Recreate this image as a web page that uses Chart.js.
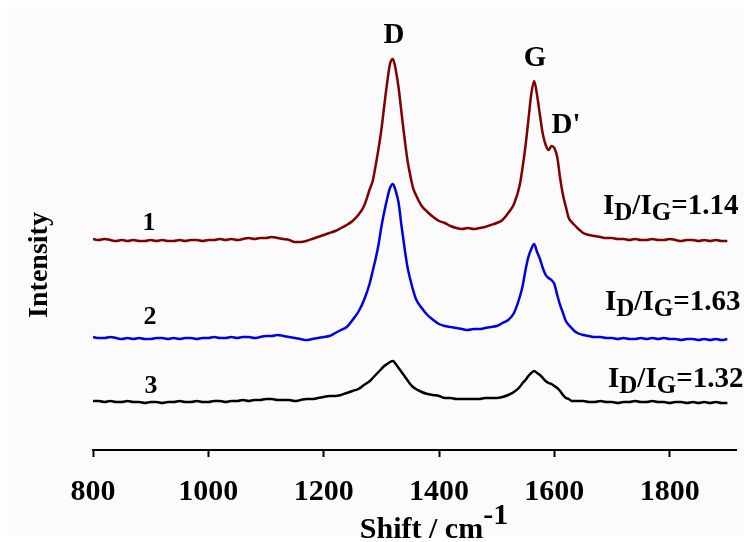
<!DOCTYPE html>
<html>
<head>
<meta charset="utf-8">
<title>Raman spectra</title>
<script src="https://cdn.jsdelivr.net/npm/chart.js@4/dist/chart.umd.min.js"></script>
<style>
  html, body { margin: 0; padding: 0; background: #fff; }
  #wrap { width: 751px; height: 542px; }
</style>
</head>
<body>
<div id="wrap"><canvas id="raman" width="751" height="542"></canvas></div>
<script>
// ── Data (Raman shift in cm-1, offset intensity in a.u.) ──────
const shifts = [
  800, 810, 820, 830, 840, 850, 860, 870, 880, 890,
  900, 910, 920, 930, 940, 950, 960, 970, 980, 990,
  1000, 1010, 1020, 1030, 1040, 1050, 1060, 1070, 1080, 1090,
  1100, 1110, 1120, 1130, 1140, 1150, 1160, 1170, 1180, 1190,
  1200, 1210, 1220, 1230, 1240, 1250, 1260, 1270,
  1280, 1285, 1290, 1295, 1300, 1305, 1310, 1315, 1320, 1325, 1330, 1335, 1340, 1345, 1350, 1355, 1360,
  1370, 1380, 1390, 1400, 1410, 1420, 1430, 1440, 1450, 1460, 1470, 1480, 1490, 1500, 1510, 1520, 1530,
  1540, 1545, 1550, 1555, 1560, 1565, 1570, 1575, 1580, 1585, 1590, 1595, 1600, 1605, 1610, 1615, 1620, 1625, 1630, 1635, 1640,
  1650, 1660, 1670, 1680, 1690, 1700, 1710, 1720, 1730, 1740, 1750, 1760, 1770, 1780, 1790, 1800,
  1810, 1820, 1830, 1840, 1850, 1860, 1870, 1880, 1890, 1900
];

// sample 1 (dark red)
const sample1 = [
  211, 210, 211, 210, 209, 210, 209, 210, 209, 209,
  210, 209, 210, 209, 209, 210, 209, 210, 210, 209,
  210, 210, 211, 210, 211, 210, 211, 212, 211, 212,
  212, 213, 212, 211, 210, 208, 208, 209, 211, 213,
  215, 217, 219, 222, 225, 229, 235, 244,
  261, 269, 284, 301, 320, 344, 367, 386, 391, 380, 362, 337, 313, 291, 275, 262, 255,
  244, 238, 233, 229, 227, 224, 222, 221, 222, 221, 222, 223, 225, 227, 230, 237, 246,
  265, 283, 304, 330, 356, 369, 355, 335, 316, 305, 300, 304, 302, 293, 272, 255, 243, 232, 228, 225, 222,
  217, 215, 214, 213, 212, 212, 211, 211, 210, 211, 210, 210, 211, 210, 210, 211,
  210, 209, 210, 210, 209, 210, 209, 210, 209, 209
];

// sample 2 (blue)
const sample2 = [
  113, 112, 112, 113, 112, 111, 112, 111, 112, 111,
  111, 112, 112, 111, 112, 111, 112, 112, 111, 112,
  112, 113, 112, 112, 113, 112, 113, 113, 112, 113,
  114, 114, 115, 114, 113, 112, 111, 110, 111, 112,
  113, 114, 117, 120, 123, 130, 138, 150,
  167, 179, 191, 205, 223, 238, 251, 262, 266, 259, 247, 224, 203, 184, 171, 160, 151,
  142, 135, 130, 126, 124, 123, 122, 121, 120, 121, 121, 122, 123, 124, 127, 130, 137,
  153, 164, 180, 193, 201, 206, 198, 191, 182, 175, 172, 170, 166, 155, 145, 137, 129, 125, 122, 119, 117,
  115, 114, 113, 113, 112, 112, 111, 112, 111, 111, 112, 111, 112, 111, 112, 111,
  111, 110, 111, 111, 110, 111, 110, 111, 110, 111
];

// sample 3 (black)
const sample3 = [
  49, 49, 48, 49, 48, 48, 49, 48, 48, 47,
  48, 48, 47, 48, 48, 49, 48, 48, 49, 48,
  48, 49, 49, 48, 49, 49, 50, 49, 50, 50,
  51, 51, 50, 50, 50, 49, 50, 51, 51, 52,
  53, 54, 54, 55, 57, 59, 61, 65,
  69, 72, 75, 78, 81, 84, 86, 88, 89, 86, 82, 78, 74, 70, 66, 63, 61,
  58, 56, 55, 54, 52, 52, 51, 51, 51, 51, 51, 52, 52, 52, 53, 55, 58,
  63, 67, 70, 74, 77, 79, 77, 75, 72, 69, 67, 66, 64, 62, 59, 55, 52, 51, 49, 49, 49,
  49, 48, 48, 49, 48, 48, 47, 48, 48, 49, 48, 48, 49, 48, 48, 47,
  48, 48, 47, 48, 47, 48, 47, 48, 47, 47
];

const xTicks = [800, 1000, 1200, 1400, 1600, 1800];
const curveNames = ['1', '2', '3'];
const ratioValues = ['1.14', '1.63', '1.32'];
const peakNames = ['D', 'G', "D'"];

const serif = "'Times New Roman', 'Liberation Serif', serif";
const toPoints = vals => shifts.map((s, i) => ({ x: s, y: vals[i] }));

// ── Text helpers ──────────────────────────────────────────────
function drawParts(ctx, x, y, parts) {
  parts.forEach(p => {
    ctx.font = `bold ${p.size}px ${serif}`;
    ctx.fillText(p.t, x, y + (p.dy || 0));
    x += ctx.measureText(p.t).width;
  });
}
function partsWidth(ctx, parts) {
  return parts.reduce((w, p) => {
    ctx.font = `bold ${p.size}px ${serif}`;
    return w + ctx.measureText(p.t).width;
  }, 0);
}

// ── Labels plugin ─────────────────────────────────────────────
const labelsPlugin = {
  id: 'labels',
  beforeDraw(chart) {
    const { ctx, width, height } = chart;
    ctx.save();
    ctx.fillStyle = '#fff';
    ctx.fillRect(0, 0, width, height);
    ctx.fillStyle = '#fbfbfb';
    ctx.fillRect(7, 7, width - 14, height - 14);
    ctx.restore();
  },
  afterDraw(chart) {
    const { ctx } = chart;
    ctx.save();
    ctx.fillStyle = '#000';
    ctx.textBaseline = 'alphabetic';

    // peak names
    ctx.textAlign = 'center';
    ctx.font = `bold 29px ${serif}`;
    ctx.fillText(peakNames[0], 394, 43);
    ctx.fillText(peakNames[1], 535, 66);
    ctx.fillText(peakNames[2], 566, 133);

    // curve numbers
    ctx.font = `bold 26px ${serif}`;
    ctx.fillText(curveNames[0], 149, 230);
    ctx.fillText(curveNames[1], 150, 324);
    ctx.fillText(curveNames[2], 151, 393);

    // I_D/I_G ratios
    ctx.textAlign = 'left';
    const ratioPos = [[603, 214], [605, 310], [608, 387]];
    ratioValues.forEach((v, i) => {
      drawParts(ctx, ratioPos[i][0], ratioPos[i][1], [
        { t: 'I', size: 29 },
        { t: 'D', size: 25, dy: 6 },
        { t: '/I', size: 29 },
        { t: 'G', size: 25, dy: 6 },
        { t: '=' + v, size: 29 }
      ]);
    });

    // x axis title with superscript
    const title = [{ t: 'Shift / cm', size: 30 }, { t: '-1', size: 30, dy: -14 }];
    const tw = partsWidth(ctx, title);
    drawParts(ctx, 434 - tw / 2, 538, title);

    // y axis title
    ctx.translate(47, 265);
    ctx.rotate(-Math.PI / 2);
    ctx.textAlign = 'center';
    ctx.font = `bold 28px ${serif}`;
    ctx.fillText('Intensity', 0, 0);
    ctx.restore();
  }
};

// ── Chart ─────────────────────────────────────────────────────
const line = (data, color) => ({
  data: toPoints(data),
  borderColor: color,
  borderWidth: 2.5,
  pointRadius: 0,
  cubicInterpolationMode: 'monotone',
  fill: false
});

new Chart(document.getElementById('raman'), {
  type: 'line',
  data: {
    datasets: [
      line(sample1, '#800000'),
      line(sample2, '#0000e6'),
      line(sample3, '#000000')
    ]
  },
  options: {
    responsive: false,
    animation: false,
    layout: { padding: { left: 93, right: 15, top: 10, bottom: 15 } },
    plugins: { legend: { display: false }, tooltip: { enabled: false } },
    scales: {
      x: {
        type: 'linear',
        min: 800,
        max: 1915,
        afterBuildTicks: scale => { scale.ticks = xTicks.map(v => ({ value: v })); },
        grid: { drawOnChartArea: false, drawTicks: true, tickLength: 7, tickWidth: 2, tickColor: '#000' },
        border: { display: true, color: '#000', width: 2 },
        ticks: {
          color: '#000',
          padding: 17,
          maxRotation: 0,
          autoSkip: false,
          callback: v => String(v),
          font: { family: serif, size: 30, weight: 'bold' }
        }
      },
      y: {
        display: false,
        min: 0,
        max: 440
      }
    }
  },
  plugins: [labelsPlugin]
});
</script>
</body>
</html>
